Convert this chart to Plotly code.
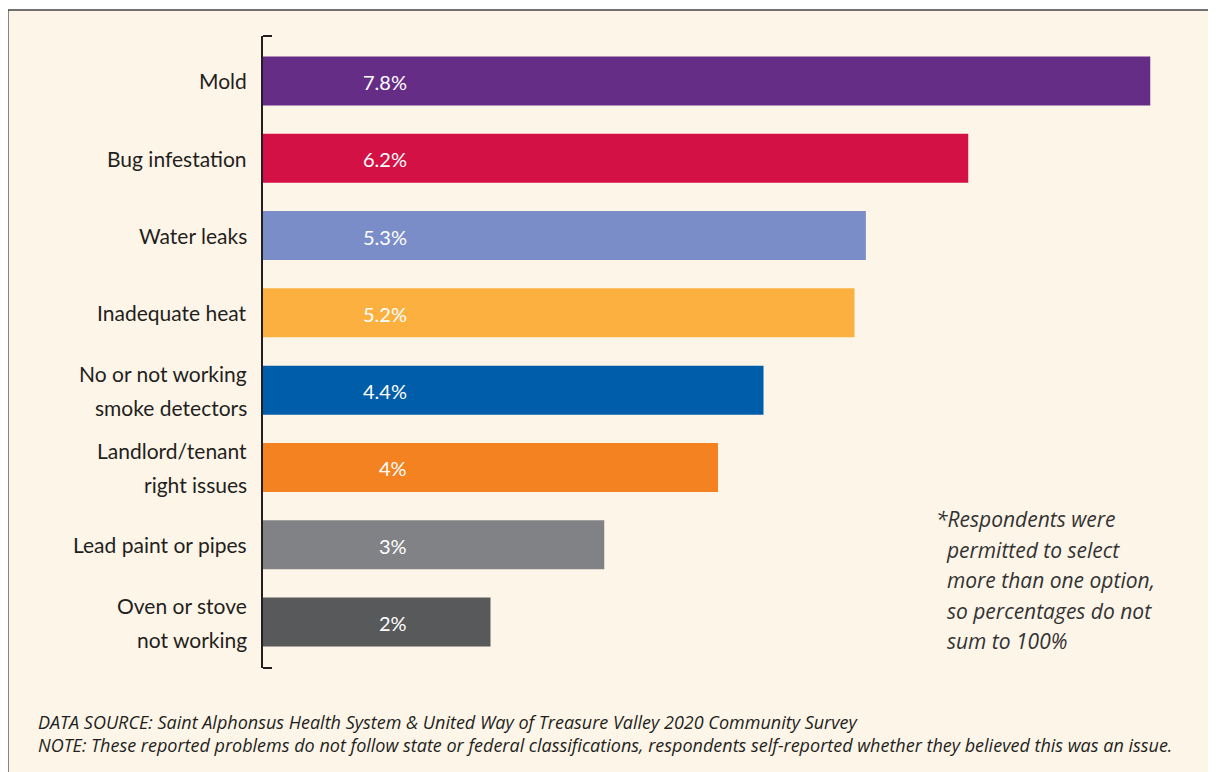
import plotly.graph_objects as go

categories = ["Mold", "Bug infestation", "Water leaks", "Inadequate heat",
              "No or not working\nsmoke detectors", "Landlord/tenant\nright issues",
              "Lead paint or pipes", "Oven or stove\nnot working"]
values = [7.8, 6.2, 5.3, 5.2, 4.4, 4.0, 3.0, 2.0]
value_labels = ["7.8%", "6.2%", "5.3%", "5.2%", "4.4%", "4%", "3%", "2%"]
colors = ["#662D87", "#D31145", "#7A8DC8", "#FBB040", "#005DAA", "#F58220", "#808285", "#58595B"]

note_lines = ["*Respondents were", "\u00a0\u00a0permitted to select", "\u00a0\u00a0more than one option,",
              "\u00a0\u00a0so percentages do not", "\u00a0\u00a0sum to 100%"]
footer_lines = ["DATA SOURCE: Saint Alphonsus Health System & United Way of Treasure Valley 2020 Community Survey",
                "NOTE: These reported problems do not follow state or federal classifications, respondents self-reported whether they believed this was an issue."]

# page is offset by the 8px body margin
OFF = 8
W, H = 1216 - OFF, 772 - OFF
ML = 263 - OFF
MT = 36 - OFF
PH = (668 - OFF) - MT
MB = H - MT - PH
PW = 8 * 113.7
MR = W - ML - PW
BG = "#FEF5E9"
INK = "#231F20"
FONT = "Lato"
NOTE_FONT = "Open Sans"

def px_x(x):
    return (x - OFF - ML) / PW

def px_y(y):
    return 1 - (y - OFF - MT) / PH

keys = list(range(len(categories)))

fig = go.Figure(go.Bar(
    y=keys, x=values, orientation="h",
    marker=dict(color=colors, line=dict(width=0)),
    hoverinfo="skip",
))

annotations = []
for k, cat, lab in zip(keys, categories, value_labels):
    lines = cat.split("\n")
    n = len(lines)
    for i, line in enumerate(lines):
        annotations.append(dict(
            x=0, xref="paper", y=k, yref="y", text=line, showarrow=False,
            xanchor="right", yanchor="middle", xshift=-14,
            yshift=(n - 1) * 17 - i * 34,
            font=dict(family=FONT, size=21, color=INK)))
    annotations.append(dict(
        x=0, xref="x", y=k, yref="y", text=lab, showarrow=False,
        xanchor="right", yanchor="middle", xshift=146, yshift=-1,
        font=dict(family=FONT, size=20, color="white")))

for i, line in enumerate(note_lines):
    annotations.append(dict(
        x=px_x(934), xref="paper", y=px_y(519 + i * 30.5), yref="paper",
        text="<i>" + line + "</i>", showarrow=False, xanchor="left", yanchor="middle",
        font=dict(family=NOTE_FONT, size=21, color="#333333")))

for i, line in enumerate(footer_lines):
    annotations.append(dict(
        x=px_x(36), xref="paper", y=px_y(722 + i * 23), yref="paper",
        text="<i>" + line + "</i>", showarrow=False, xanchor="left", yanchor="middle",
        font=dict(family=NOTE_FONT, size=18, color=INK)))

shapes = [
    dict(type="rect", xref="paper", yref="paper", layer="below",
         x0=px_x(8), x1=px_x(1216 + 40), y0=px_y(772 + 40), y1=px_y(10),
         fillcolor=BG, line=dict(color="#444444", width=1.5)),
    dict(type="line", xref="paper", yref="paper", x0=0, x1=px_x(272), y0=1, y1=1,
         line=dict(color=INK, width=2)),
    dict(type="line", xref="paper", yref="paper", x0=0, x1=px_x(272), y0=0, y1=0,
         line=dict(color=INK, width=2)),
]

fig.update_layout(
    width=W, height=H,
    margin=dict(l=ML, r=MR, t=MT, b=MB),
    paper_bgcolor="white", plot_bgcolor="rgba(0,0,0,0)",
    bargap=0.366, showlegend=False,
    xaxis=dict(range=[0, 8], visible=False, fixedrange=True),
    yaxis=dict(range=[7.595, -0.582], showticklabels=False, showgrid=False, zeroline=False,
               showline=True, linecolor=INK, linewidth=2, ticks="", fixedrange=True),
    annotations=annotations, shapes=shapes,
)

fig.write_html("out.html", config={"displayModeBar": False})
